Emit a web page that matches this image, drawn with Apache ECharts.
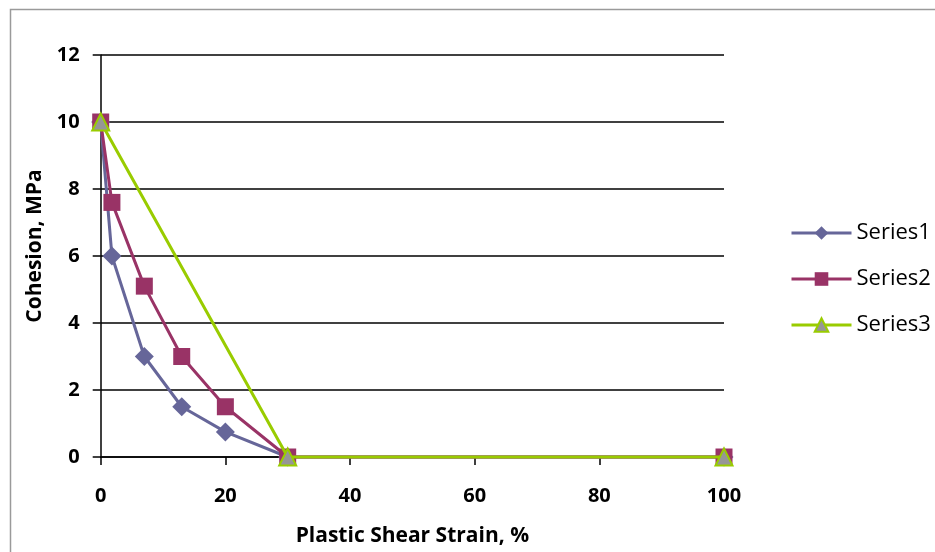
<!DOCTYPE html>
<html>
<head>
<meta charset="utf-8">
<script src="https://cdn.jsdelivr.net/npm/echarts@6/dist/echarts.min.js"></script>
<style>html,body{margin:0;padding:0;background:#fff}#c{width:935px;height:552px}</style>
</head>
<body>
<div id="c"></div>
<script>
var strain12 = [0, 1.8, 7, 13, 20, 30, 100];
var series1 = [10, 6, 3, 1.5, 0.75, 0, 0];
var series2 = [10, 7.6, 5.1, 3, 1.5, 0, 0];
var strain3 = [0, 30, 100];
var series3 = [10, 0, 0];
var seriesNames = ['Series1', 'Series2', 'Series3'];
var xTitle = 'Plastic Shear Strain, %';
var yTitle = 'Cohesion, MPa';

function pairs(xs, ys) { return xs.map(function (x, i) { return [x, ys[i]]; }); }

var font = '"Open Sans", Lato, sans-serif';
var chart = echarts.init(document.getElementById('c'), null, {renderer: 'canvas'});
chart.setOption({
  animation: false,
  backgroundColor: '#fff',
  graphic: [{
    type: 'rect', silent: true, z: -1,
    shape: {x: 10.5, y: 9.5, width: 1000, height: 1000},
    style: {fill: 'none', stroke: '#9a9a9a', lineWidth: 1.5}
  }],
  grid: {left: 100.7, right: 211, top: 55, bottom: 95, containLabel: false},
  legend: {
    orient: 'vertical', left: 785, top: 217,
    itemWidth: 60, itemHeight: 17, itemGap: 24,
    lineStyle: {width: 3},
    textStyle: {fontFamily: font, fontSize: 22, color: '#000'},
    data: seriesNames
  },
  xAxis: {
    type: 'value', min: 0, max: 100, interval: 20,
    name: xTitle, nameLocation: 'middle', nameGap: 69,
    nameTextStyle: {fontFamily: font, fontWeight: 'bold', fontSize: 21, color: '#000'},
    axisLine: {show: true, lineStyle: {color: '#000', width: 1.5}},
    axisTick: {show: true, inside: false, length: 8, lineStyle: {color: '#000', width: 1.5}},
    axisLabel: {margin: 29, fontFamily: font, fontWeight: 'bold', fontSize: 20, color: '#000'},
    splitLine: {show: false}
  },
  yAxis: {
    type: 'value', min: 0, max: 12, interval: 2,
    name: yTitle, nameLocation: 'middle', nameGap: 55, nameRotate: 90,
    nameTextStyle: {fontFamily: font, fontWeight: 'bold', fontSize: 21, color: '#000', padding: [0, 0, 0, 20]},
    axisLine: {show: true, lineStyle: {color: '#000', width: 1.5}},
    axisTick: {show: true, inside: false, length: 8, lineStyle: {color: '#000', width: 1.5}},
    axisLabel: {margin: 21, fontFamily: font, fontWeight: 'bold', fontSize: 20, color: '#000'},
    splitLine: {show: true, lineStyle: {color: '#000', width: 1.5}}
  },
  series: [
    {
      name: seriesNames[0], type: 'line', data: pairs(strain12, series1),
      symbol: 'diamond', symbolSize: 19, clip: false, z: 2,
      lineStyle: {color: '#666699', width: 3},
      itemStyle: {color: '#666699'}
    },
    {
      name: seriesNames[1], type: 'line', data: pairs(strain12, series2),
      symbol: 'rect', symbolSize: 17, clip: false, z: 3,
      lineStyle: {color: '#993366', width: 3},
      itemStyle: {color: '#993366'}
    },
    {
      name: seriesNames[2], type: 'line', data: pairs(strain3, series3),
      symbol: 'triangle', symbolSize: 17, clip: false, z: 4,
      lineStyle: {color: '#99CC00', width: 3},
      itemStyle: {color: '#969696', borderColor: '#99CC00', borderWidth: 2}
    }
  ]
});
</script>
</body>
</html>
